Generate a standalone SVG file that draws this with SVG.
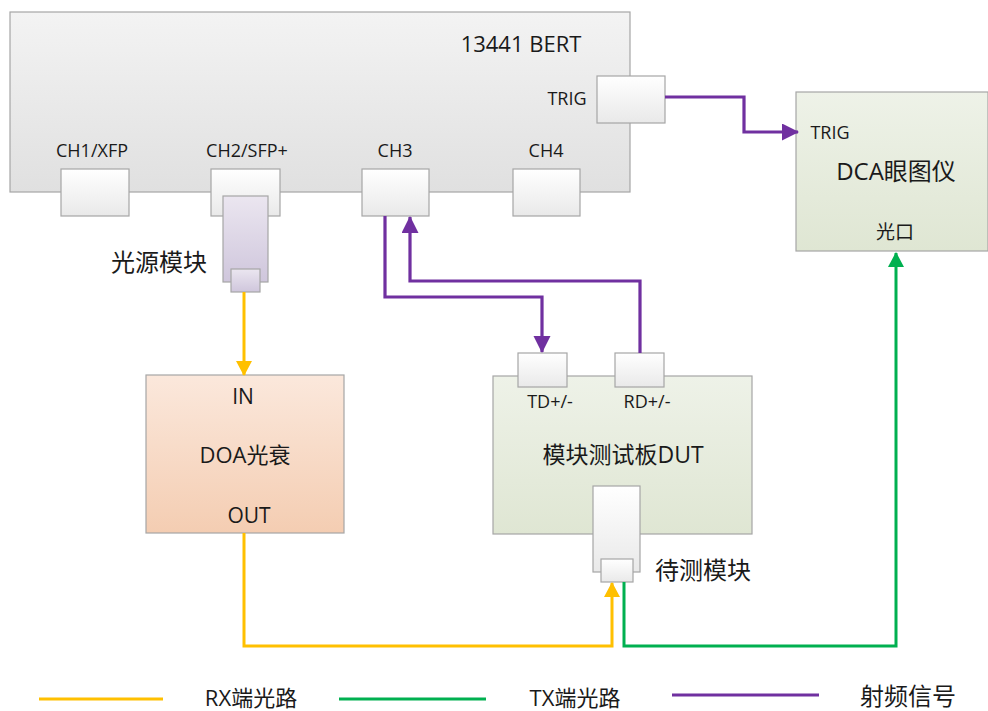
<svg xmlns="http://www.w3.org/2000/svg" width="988" height="711" viewBox="0 0 988 711">
<style>
  .lat { font-family: "Open Sans", "Noto Sans", "Liberation Sans", sans-serif; fill: #1a1a1a; }
  .cjk { font-family: "Noto Sans CJK SC", "Noto Sans", sans-serif; fill: #1a1a1a; }
  .mix { font-family: "Open Sans", "Noto Sans CJK SC", sans-serif; fill: #1a1a1a; }
  .box { stroke: #a6a6a6; stroke-width: 1.2; }
  .port { fill: url(#gPort); stroke: #a6a6a6; stroke-width: 1.2; }
  .y { fill: none; stroke: #FFC000; stroke-width: 3; }
  .g { fill: none; stroke: #00B050; stroke-width: 3; }
  .p { fill: none; stroke: #7030A0; stroke-width: 3.2; }
</style>
<defs>
  <linearGradient id="gBert" x1="0" y1="0" x2="0" y2="1"><stop offset="0" stop-color="#f3f3f3"/><stop offset="1" stop-color="#e0e0e0"/></linearGradient>
  <linearGradient id="gPort" x1="0" y1="0" x2="0" y2="1"><stop offset="0" stop-color="#ffffff"/><stop offset="1" stop-color="#e9e9e9"/></linearGradient>
  <linearGradient id="gGreen" x1="0" y1="0" x2="0" y2="1"><stop offset="0" stop-color="#eef2e8"/><stop offset="1" stop-color="#dfe6d3"/></linearGradient>
  <linearGradient id="gPeach" x1="0" y1="0" x2="0" y2="1"><stop offset="0" stop-color="#fbe8dc"/><stop offset="1" stop-color="#f4cdb2"/></linearGradient>
  <linearGradient id="gLav" x1="0" y1="0" x2="0" y2="1"><stop offset="0" stop-color="#ebe6f0"/><stop offset="1" stop-color="#cfc6dc"/></linearGradient>
  <marker id="aP" markerUnits="userSpaceOnUse" markerWidth="18" markerHeight="18" refX="16" refY="8.5" orient="auto"><path d="M0,0 L17,8.5 L0,17 z" fill="#7030A0"/></marker>
  <marker id="aY" markerUnits="userSpaceOnUse" markerWidth="18" markerHeight="18" refX="14" refY="8" orient="auto"><path d="M0,0 L15,8 L0,16 z" fill="#FFC000"/></marker>
  <marker id="aG" markerUnits="userSpaceOnUse" markerWidth="18" markerHeight="18" refX="14" refY="8" orient="auto"><path d="M0,0 L15,8 L0,16 z" fill="#00B050"/></marker>
</defs>
<rect width="988" height="711" fill="#ffffff"/>

<g id="bert">
  <rect class="box" x="10" y="12" width="620" height="180" fill="url(#gBert)"/>
  <text class="lat" x="521" y="52" font-size="22" text-anchor="middle">13441 BERT</text>
  <text class="lat" x="567" y="105" font-size="18" text-anchor="middle">TRIG</text>
  <text class="lat" x="92" y="157" font-size="18" text-anchor="middle">CH1/XFP</text>
  <text class="lat" x="247" y="157" font-size="18" text-anchor="middle">CH2/SFP+</text>
  <text class="lat" x="395" y="157" font-size="18" text-anchor="middle">CH3</text>
  <text class="lat" x="546" y="157" font-size="18" text-anchor="middle">CH4</text>
</g>
<g id="port-trig"><rect class="port" x="597" y="76" width="68" height="47"/></g>
<g id="port-ch1"><rect class="port" x="61" y="169" width="68" height="47"/></g>
<g id="port-ch2"><rect class="port" x="211" y="169" width="69" height="47"/></g>
<g id="port-ch3"><rect class="port" x="362" y="169" width="67" height="47"/></g>
<g id="port-ch4"><rect class="port" x="513" y="169" width="67" height="47"/></g>

<g id="light-source">
  <rect x="223" y="196" width="45" height="86" fill="url(#gLav)" stroke="#a6a6a6" stroke-width="1.2"/>
  <rect x="231" y="269" width="29" height="23" fill="url(#gLav)" stroke="#a6a6a6" stroke-width="1.2"/>
  <text class="cjk" x="159" y="271" font-size="24" text-anchor="middle">光源模块</text>
</g>

<g id="dca">
  <rect class="box" x="796" y="92" width="192" height="159" fill="url(#gGreen)"/>
  <text class="lat" x="830" y="139" font-size="18" text-anchor="middle">TRIG</text>
  <text class="mix" x="896" y="180" font-size="24" text-anchor="middle">DCA眼图仪</text>
  <text class="cjk" x="895" y="239" font-size="19" text-anchor="middle">光口</text>
</g>

<g id="doa">
  <rect class="box" x="146" y="375" width="198" height="158" fill="url(#gPeach)"/>
  <text class="lat" x="243" y="404" font-size="21" text-anchor="middle">IN</text>
  <text class="mix" x="245" y="463" font-size="22" text-anchor="middle">DOA光衰</text>
  <text class="lat" x="249" y="523" font-size="21" text-anchor="middle">OUT</text>
</g>

<g id="dut">
  <rect class="box" x="493" y="376" width="259" height="158" fill="url(#gGreen)"/>
  <text class="lat" x="550" y="408" font-size="18" text-anchor="middle">TD+/-</text>
  <text class="lat" x="647" y="408" font-size="18" text-anchor="middle">RD+/-</text>
  <text class="mix" x="623" y="463" font-size="23" text-anchor="middle">模块测试板DUT</text>
</g>
<g id="port-td"><rect class="port" x="518" y="353" width="49" height="34"/></g>
<g id="port-rd"><rect class="port" x="615" y="353" width="49" height="34"/></g>

<g id="module-under-test">
  <rect class="port" x="593" y="486" width="47" height="86"/>
  <rect class="port" x="601" y="559" width="32" height="23"/>
  <text class="cjk" x="703" y="579" font-size="24" text-anchor="middle">待测模块</text>
</g>

<g id="connectors">
  <path class="p" d="M665,97 H744 V132 H798" marker-end="url(#aP)"/>
  <path class="p" d="M385,216 V297 H542 V352" marker-end="url(#aP)"/>
  <path class="p" d="M640,353 V281 H410 V217" marker-end="url(#aP)"/>
  <path class="y" d="M244,292 V375" marker-end="url(#aY)"/>
  <path class="y" d="M244,533 V646 H612 V583" marker-end="url(#aY)"/>
  <path class="g" d="M624,582 V646 H896 V253" marker-end="url(#aG)"/>
</g>

<g id="legend">
  <line x1="39" y1="699" x2="163" y2="699" stroke="#FFC000" stroke-width="3"/>
  <text class="mix" x="251" y="706" font-size="22" text-anchor="middle">RX端光路</text>
  <line x1="339" y1="699" x2="486" y2="699" stroke="#00B050" stroke-width="3"/>
  <text class="mix" x="575" y="706" font-size="22" text-anchor="middle">TX端光路</text>
  <line x1="672" y1="695" x2="819" y2="695" stroke="#7030A0" stroke-width="3.2"/>
  <text class="cjk" x="908" y="705" font-size="24" text-anchor="middle">射频信号</text>
</g>
</svg>
